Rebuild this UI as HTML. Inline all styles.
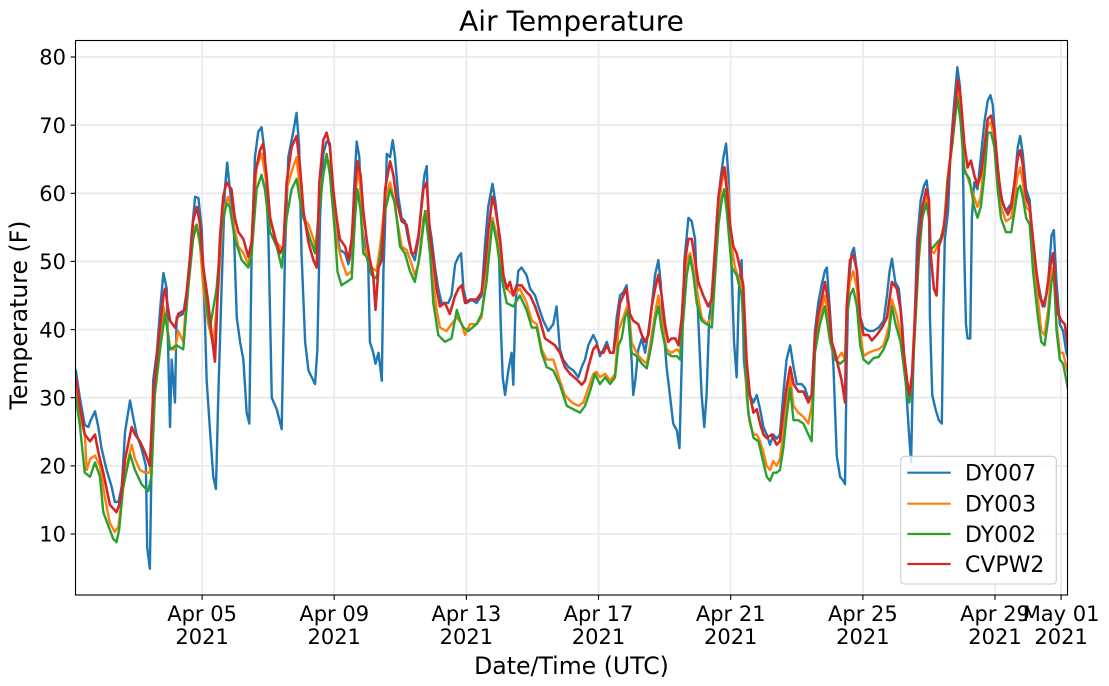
<!DOCTYPE html>
<html><head><meta charset="utf-8"><style>
html,body{margin:0;padding:0;background:#fff;}
svg{display:block;font-family:"DejaVu Sans","Liberation Sans",sans-serif;}
</style></head><body>
<svg width="1109" height="686" viewBox="0 0 1109 686" xmlns="http://www.w3.org/2000/svg">
<defs><clipPath id="pa"><rect x="75.5" y="40.5" width="992" height="554.5"/></clipPath></defs>
<rect width="1109" height="686" fill="#fff"/>
<!-- grid -->
<g stroke="#ebebeb" stroke-width="1.8">
<line x1="75.5" x2="1067.5" y1="57" y2="57"/><line x1="75.5" x2="1067.5" y1="125.2" y2="125.2"/>
<line x1="75.5" x2="1067.5" y1="193.3" y2="193.3"/><line x1="75.5" x2="1067.5" y1="261.4" y2="261.4"/>
<line x1="75.5" x2="1067.5" y1="329.6" y2="329.6"/><line x1="75.5" x2="1067.5" y1="397.7" y2="397.7"/>
<line x1="75.5" x2="1067.5" y1="465.9" y2="465.9"/><line x1="75.5" x2="1067.5" y1="534" y2="534"/>
<line y1="40.5" y2="595" x1="202.1" x2="202.1"/><line y1="40.5" y2="595" x1="334.2" x2="334.2"/>
<line y1="40.5" y2="595" x1="466.4" x2="466.4"/><line y1="40.5" y2="595" x1="598.5" x2="598.5"/>
<line y1="40.5" y2="595" x1="730.7" x2="730.7"/><line y1="40.5" y2="595" x1="862.9" x2="862.9"/>
<line y1="40.5" y2="595" x1="995" x2="995"/><line y1="40.5" y2="595" x1="1061.1" x2="1061.1"/>
</g>
<g clip-path="url(#pa)">
<g transform="translate(69.9,602.14) scale(33.04,-6.814)" fill="none" stroke-linejoin="round" stroke-linecap="round">
<polyline vector-effect="non-scaling-stroke" stroke="#1f77b4" stroke-width="2.4" points="0.18,34 0.30,30 0.45,26 0.56,25.7 0.61,26.5 0.76,28 0.86,25.7 0.96,22.5 1.11,19.4 1.26,17 1.36,14.7 1.47,14.7 1.57,17 1.67,25 1.82,29.6 1.92,27 2.02,24.6 2.17,22.5 2.30,20 2.34,8 2.42,4.9 2.47,20 2.52,32.5 2.63,36.6 2.73,42.9 2.83,48.3 2.93,46 3.03,25.7 3.08,35.6 3.18,29.3 3.23,41.8 3.43,42.3 3.58,47 3.68,53.8 3.79,59.5 3.89,59.3 3.99,54.8 4.09,40.8 4.14,32.5 4.24,25.2 4.34,18.4 4.42,16.6 4.49,30 4.59,46 4.69,60.6 4.76,64.5 4.84,60.6 4.95,56.4 5.05,41.8 5.15,38.2 5.25,35.6 5.35,27.8 5.43,26.2 5.50,51.2 5.60,65.3 5.70,69 5.80,69.7 5.90,65.8 6.01,53.3 6.11,30 6.26,28.3 6.41,25.4 6.51,51.2 6.61,65.3 6.76,69 6.86,71.8 6.94,66.8 7.01,51.2 7.12,38.2 7.22,34 7.32,33 7.42,32 7.49,37.1 7.57,56.4 7.67,65.8 7.77,67.6 7.87,67.3 7.97,59 8.07,54.3 8.17,51.7 8.33,51.2 8.43,49.6 8.53,51.7 8.60,60.6 8.68,67.6 8.76,65.3 8.83,55.4 8.93,52.2 9.03,49.6 9.08,38.2 9.18,36.6 9.25,35 9.34,36.6 9.44,32.5 9.49,48.6 9.54,55.4 9.59,65.8 9.69,65.3 9.77,67.8 9.84,65.3 9.94,59.5 10.04,56.4 10.14,55.9 10.24,53.3 10.34,51.2 10.44,50.2 10.55,53.3 10.65,59 10.73,62.7 10.80,64 10.85,56.4 10.95,53.3 11.05,49.1 11.15,46 11.25,43.9 11.45,43.9 11.55,45 11.66,49.6 11.76,50.7 11.84,51.2 11.91,46 12.01,43.9 12.16,44.4 12.31,43.9 12.46,45 12.56,52.2 12.66,58 12.79,61.4 12.87,59 12.97,54.8 13.04,40.8 13.10,33 13.17,30.4 13.27,34 13.37,36.6 13.42,31.9 13.49,43.9 13.57,48.6 13.67,49.1 13.82,48 13.93,46 14.08,45 14.18,43.4 14.33,41.3 14.48,39.8 14.63,40.8 14.73,43.4 14.83,37.1 14.93,35.6 15.09,34.5 15.24,34 15.39,33 15.49,34.5 15.59,35.6 15.69,37.7 15.84,39.2 15.94,38.2 16.04,36.1 16.15,37.1 16.25,38.2 16.35,36.6 16.45,36.6 16.55,41.8 16.65,45 16.75,45.5 16.85,46.5 16.90,42 17.00,35.6 17.05,30.4 17.12,32.8 17.20,37 17.31,38.7 17.41,36.6 17.51,39.8 17.61,43.4 17.71,48 17.81,50.2 17.88,47 17.96,40.8 18.06,34.5 18.16,30.4 18.26,26.2 18.37,25.2 18.45,22.6 18.52,35.6 18.60,50.2 18.72,56.4 18.82,55.9 18.92,53.3 19.02,41.3 19.12,30.4 19.20,25.7 19.27,30.4 19.35,41.8 19.48,46 19.58,56.4 19.68,61.6 19.78,65.3 19.86,67.3 19.93,62.7 20.03,48.6 20.10,38.2 20.18,33 20.25,46 20.33,50.2 20.40,35.6 20.48,31.4 20.58,30.4 20.69,29.3 20.79,30.4 20.89,28.3 20.99,25.7 21.09,24.6 21.19,23.1 21.29,24.6 21.39,24 21.49,24.6 21.59,30.4 21.69,35.6 21.80,37.7 21.90,34.5 22.00,32 22.15,32 22.25,31.4 22.35,29.8 22.45,30.4 22.55,39.8 22.65,43.9 22.75,46.5 22.85,48.6 22.91,49.1 23.01,42.3 23.11,34.5 23.21,21.5 23.31,18.4 23.41,17.8 23.46,17.3 23.51,35 23.56,46 23.66,51.2 23.73,52 23.82,48.6 23.92,41.8 24.02,40.3 24.17,39.8 24.32,39.8 24.48,40.3 24.63,41.3 24.73,45 24.81,48.6 24.88,50.4 24.98,47 25.09,46 25.19,40.8 25.29,33 25.39,25.2 25.46,20.5 25.50,30 25.56,40 25.64,52.8 25.75,59 25.85,61.1 25.93,61.9 26.00,59 26.03,41.8 26.10,30.4 26.20,28.3 26.30,26.7 26.39,26.2 26.43,40.8 26.48,53.3 26.58,57.4 26.66,66.8 26.76,73 26.86,78.5 26.94,75.6 27.02,66.8 27.07,51.2 27.12,40.8 27.17,38.7 27.25,38.7 27.30,56.4 27.37,61.6 27.47,60.6 27.57,65.3 27.68,70.5 27.78,73.6 27.86,74.4 27.93,73 28.03,66.8 28.13,61.6 28.23,58.5 28.33,57.4 28.49,58.5 28.59,61.6 28.69,66.8 28.76,68.4 28.84,65.8 28.94,60.6 29.05,59 29.15,51.2 29.30,47 29.40,44.4 29.50,43.4 29.61,47 29.71,53.8 29.78,54.6 29.86,47 29.96,40.8 30.06,39.8 30.16,36.6 30.24,35.6"/>
<polyline vector-effect="non-scaling-stroke" stroke="#ff7f0e" stroke-width="2.4" points="0.18,31 0.30,27.2 0.45,24.6 0.51,19.4 0.61,21 0.76,21.5 0.91,20 1.06,15.3 1.21,11.6 1.36,10.3 1.47,11.1 1.57,15.3 1.72,20 1.87,23.1 1.97,21 2.12,19.4 2.27,19 2.42,19 2.52,30.4 2.68,37.1 2.83,43.4 2.93,41.3 3.03,37.1 3.18,37.1 3.28,39.8 3.43,38.2 3.58,48 3.73,54.8 3.84,55.4 3.94,52.2 4.04,46 4.19,40.8 4.34,37.7 4.49,46 4.64,57.4 4.79,59.5 4.95,55.4 5.10,52.2 5.25,51.2 5.40,49.6 5.50,52.8 5.65,63.8 5.80,65.8 5.95,61.6 6.06,56.4 6.26,52.8 6.46,51.7 6.56,60.6 6.71,63.2 6.86,65.3 6.96,60.6 7.07,56.4 7.22,55.4 7.37,53.3 7.47,51.2 7.57,60 7.67,62.7 7.77,65.3 7.87,64.2 7.97,59 8.07,53.3 8.22,50.2 8.38,48 8.53,48.6 8.63,57.4 8.70,63.8 8.80,60.6 8.88,52.2 8.98,51.2 9.13,49.1 9.28,48.6 9.39,52.2 9.54,59 9.69,61.6 9.79,59.5 9.89,56.4 10.04,52.2 10.19,51.7 10.34,49.6 10.44,48 10.55,49.6 10.70,56.4 10.80,57.4 10.90,53.3 11.00,47 11.10,42.9 11.20,40.3 11.40,39.8 11.55,40.8 11.71,41.8 11.86,40.8 11.96,39.2 12.11,40.8 12.31,40.8 12.46,41.8 12.61,48.6 12.79,56.4 12.92,53.8 13.07,49.1 13.22,46 13.42,45 13.62,46 13.82,44 13.98,41.3 14.13,40.8 14.28,37.1 14.43,35.6 14.63,35.6 14.83,32.5 14.98,30.4 15.19,29.3 15.39,28.8 15.54,29.3 15.69,31.4 15.84,33.5 15.94,33.8 16.04,33 16.20,33.5 16.35,32.5 16.50,33.5 16.60,39.8 16.75,41.8 16.90,43.9 17.00,38.2 17.15,36.6 17.31,35.6 17.46,35 17.56,37.7 17.71,42.3 17.81,45 17.91,41.3 18.06,37.1 18.21,36.6 18.37,37.1 18.47,36.6 18.57,42.9 18.67,50.2 18.77,51.2 18.87,49.1 18.97,46 19.12,41.8 19.27,40.8 19.43,41.8 19.53,50.2 19.63,57.4 19.73,61.6 19.83,63.8 19.93,60 20.03,52.2 20.13,49.1 20.28,47 20.38,45.5 20.48,30.4 20.58,26.2 20.69,24.6 20.79,24.6 20.89,23.6 20.99,22 21.09,20 21.19,19.4 21.29,20.7 21.39,20 21.49,21 21.59,24.6 21.69,29.3 21.80,33 21.90,28.8 22.05,27.8 22.20,27.2 22.35,26.2 22.45,28.8 22.55,37.7 22.70,41.8 22.85,45 22.96,41.8 23.06,37.1 23.21,35.6 23.36,36.6 23.46,35.6 23.51,42.9 23.61,47 23.71,48.6 23.82,46 23.92,39.8 24.02,36.1 24.17,36.6 24.32,36.9 24.48,37.1 24.63,37.7 24.78,40.3 24.88,44.4 25.03,42 25.14,39.2 25.24,35.6 25.34,31.4 25.41,29.8 25.49,32.5 25.59,42 25.69,51.2 25.80,56.9 25.92,59.5 26.00,57.4 26.05,51.7 26.15,51.2 26.25,52.2 26.35,53.3 26.46,55.4 26.56,62.2 26.71,67.8 26.86,75.6 26.96,72 27.07,63.8 27.22,61.6 27.37,59.5 27.47,58 27.57,59.5 27.68,65.3 27.78,69.9 27.88,70.4 27.98,67.8 28.08,61.6 28.18,58 28.33,55.9 28.49,56.4 28.59,59.5 28.69,62.7 28.76,63.8 28.84,61.6 28.94,58 29.05,57.4 29.15,51.2 29.30,44.4 29.40,39.8 29.50,39.2 29.61,43 29.71,49.1 29.78,48.6 29.86,41 29.96,36.6 30.06,36.6 30.16,34.5 30.24,33"/>
<polyline vector-effect="non-scaling-stroke" stroke="#2ca02c" stroke-width="2.4" points="0.18,30 0.30,26 0.45,19 0.61,18.4 0.76,20.5 0.91,18.4 1.01,13.2 1.21,10.6 1.31,9.3 1.41,8.8 1.49,10.6 1.61,16.8 1.82,21.7 1.97,19.4 2.17,17.3 2.37,16.3 2.47,18.4 2.57,30.4 2.73,37.1 2.88,42.3 3.03,37.1 3.23,37.7 3.43,37.1 3.58,46 3.73,53.3 3.84,55.4 3.99,51.2 4.14,43.4 4.24,40.3 4.44,46 4.59,54.8 4.74,58.5 4.84,58 4.99,53.3 5.20,50.2 5.40,49.1 5.50,51 5.65,60.6 5.80,62.7 5.90,60.6 6.06,54.3 6.26,52.2 6.41,49.1 6.56,56.4 6.71,60.6 6.86,62.1 6.96,59 7.07,56.4 7.27,53.3 7.42,51.2 7.52,56.4 7.67,62.7 7.77,65.8 7.87,62.7 8.02,54.3 8.10,48.5 8.22,46.5 8.38,47 8.53,47.5 8.63,56.4 8.70,60.6 8.80,57.4 8.88,51.2 8.98,50.7 9.13,48 9.28,47.5 9.39,50.7 9.54,57.4 9.69,60.6 9.84,58.5 9.99,52.2 10.14,51.2 10.29,48.6 10.44,47 10.60,51.2 10.75,57.4 10.90,51.2 11.00,43.9 11.15,39.2 11.35,38.2 11.55,38.7 11.71,42.9 11.81,41.3 11.91,40.3 12.06,39.8 12.31,40.8 12.46,42.3 12.61,47 12.79,55.9 12.92,52.8 13.07,47.5 13.22,43.9 13.42,43.4 13.62,45 13.82,42.9 13.98,40.3 14.13,40.3 14.28,36.6 14.43,34.5 14.63,34 14.83,31.9 15.04,28.8 15.24,28.3 15.44,27.8 15.59,28.8 15.74,30.9 15.89,33.5 16.04,32 16.20,33 16.35,32 16.50,33 16.60,37.7 16.70,38.7 16.80,41.8 16.90,42.9 17.00,36.6 17.15,36.1 17.31,35 17.46,34.3 17.61,38 17.71,41.3 17.81,43.4 17.91,40 18.06,36.6 18.21,36.1 18.37,36.1 18.47,35.6 18.57,41.8 18.67,48 18.77,50.7 18.87,48 18.97,43.9 19.12,41.3 19.27,40.8 19.43,40.3 19.53,48 19.63,55.4 19.73,59 19.80,60.6 19.88,57.4 20.03,49.1 20.18,48 20.33,45 20.43,37.1 20.53,27.8 20.69,24.1 20.84,23.6 20.99,20.5 21.09,18.4 21.19,17.8 21.29,19 21.39,19 21.49,19.4 21.59,22.5 21.69,27.2 21.80,31.4 21.90,26.7 22.05,26.7 22.20,26.2 22.35,24.6 22.45,23.6 22.55,36.6 22.70,40.8 22.85,43.4 23.01,38.2 23.16,35.6 23.31,35 23.46,35.6 23.51,41.8 23.61,45 23.71,46 23.82,43.4 23.92,37.7 24.02,35.6 24.17,35 24.32,35.8 24.48,36 24.63,37.1 24.78,39 24.88,43.4 24.98,41 25.14,38.2 25.24,34.5 25.34,30.4 25.41,29.3 25.49,32 25.59,41 25.69,50.2 25.80,56.4 25.92,58.5 26.00,56.4 26.05,51.7 26.15,52.2 26.25,52.8 26.35,53.3 26.46,54.8 26.56,61.6 26.71,67.3 26.86,74.1 26.96,70.4 27.07,63.2 27.22,62.2 27.37,58 27.47,56.4 27.57,58 27.68,62.7 27.78,68.9 27.88,68.9 27.98,66.8 28.08,60.6 28.18,56.4 28.33,54.3 28.49,54.3 28.59,57.4 28.69,60.6 28.76,61.1 28.84,59.5 28.94,56.4 29.05,55.4 29.15,48.6 29.30,41.8 29.40,38.2 29.50,37.7 29.61,41.5 29.71,47 29.78,48.6 29.86,40 29.96,35.6 30.06,35 30.16,32.5 30.24,30.4"/>
<polyline vector-effect="non-scaling-stroke" stroke="#d62728" stroke-width="2.6" points="0.18,33 0.30,28.8 0.45,24.6 0.61,23.6 0.76,24.6 0.86,22 1.01,19 1.21,14.3 1.41,13.2 1.52,14.7 1.67,21 1.87,25.7 1.97,24.6 2.12,23.6 2.27,22 2.42,20 2.52,30.4 2.68,38.2 2.83,45 2.88,46 3.03,41.3 3.18,40.3 3.28,42.3 3.48,42.9 3.63,50.2 3.73,55.9 3.84,58 3.94,55.4 4.04,49.1 4.19,43.9 4.29,39.2 4.39,35.3 4.44,41.3 4.54,53.3 4.64,59.5 4.74,61.6 4.89,60.6 4.99,56.4 5.10,54.3 5.25,53.3 5.40,50.7 5.50,52.8 5.60,62.7 5.75,66.3 5.85,67.3 5.95,62.7 6.06,56.4 6.21,53.3 6.36,51.2 6.46,52.2 6.56,61.6 6.71,66.8 6.86,68.4 6.96,64.2 7.07,57.4 7.22,52.8 7.37,50.2 7.47,49.1 7.55,61.6 7.67,67.8 7.77,68.9 7.87,66.8 7.97,60.6 8.07,56.4 8.17,53.3 8.33,52.2 8.43,50.2 8.53,53.3 8.60,59 8.70,64.7 8.80,62.7 8.88,57.4 8.98,53.3 9.08,50.2 9.18,48 9.25,42.9 9.34,49.1 9.44,50.2 9.54,60.6 9.69,64.7 9.79,62.7 9.89,59 10.04,55.9 10.19,55.4 10.34,51.2 10.44,51.2 10.55,53.8 10.70,60.6 10.80,61.6 10.90,53.8 11.00,50.2 11.10,46 11.20,43.4 11.35,43.9 11.50,42.3 11.66,45 11.76,46 11.86,46.5 11.96,43.9 12.11,44.4 12.31,44.4 12.46,45.5 12.56,49.1 12.66,54.3 12.79,59.5 12.87,58 13.02,53.3 13.12,48 13.22,46 13.32,47 13.42,45 13.52,46.5 13.67,46.5 13.82,45.5 13.93,45 14.08,43.4 14.23,41.3 14.38,38.7 14.53,38.2 14.68,37.7 14.83,36.6 14.98,34.5 15.14,33.5 15.34,32.7 15.49,31.9 15.59,32.5 15.69,34.5 15.84,37.1 15.94,37.7 16.04,36.6 16.15,36.6 16.25,37.7 16.35,36.6 16.45,36.6 16.55,39.8 16.65,43.9 16.75,45 16.85,46 16.95,42.3 17.05,41.3 17.20,40.8 17.31,39.2 17.41,38.2 17.51,39.2 17.61,43.4 17.71,46 17.81,48 17.91,45 18.01,40.8 18.11,38.2 18.21,38.7 18.32,38.7 18.42,37.7 18.52,41.8 18.62,50.2 18.72,53.3 18.82,53.3 18.92,50.2 19.02,47 19.17,45 19.32,43.4 19.42,44.4 19.53,52.2 19.63,59.5 19.73,62.7 19.80,63.8 19.88,60.6 19.98,55.4 20.08,52.2 20.18,51.2 20.28,49.1 20.38,46.5 20.48,35.6 20.58,30.4 20.69,27.8 20.79,28.3 20.89,26.2 20.99,24.6 21.09,24.1 21.24,24.6 21.39,23.1 21.49,23.6 21.59,27.8 21.69,31.4 21.80,34.5 21.90,32 22.05,30.9 22.20,30.9 22.35,29.3 22.45,30.4 22.55,38.7 22.65,42.3 22.75,44.4 22.85,47 22.96,43.9 23.06,38.2 23.16,36.6 23.26,34.5 23.36,32.5 23.46,29.3 23.51,43.4 23.61,50.2 23.71,51 23.82,48.6 23.92,41.8 24.02,39.2 24.17,39.2 24.27,38.4 24.42,39.2 24.58,40.3 24.73,41.8 24.88,47 25.03,46 25.14,42.9 25.24,36.6 25.34,32.5 25.41,30.4 25.49,33.5 25.59,43.4 25.69,52.8 25.80,58 25.92,60.6 26.00,59 26.05,51.2 26.15,46 26.23,45 26.30,52.2 26.41,53.8 26.51,57.4 26.61,63.2 26.76,71.4 26.88,76.7 26.96,74.1 27.07,67.3 27.17,63.8 27.27,64.8 27.37,62.7 27.47,61.1 27.57,62.7 27.68,66.8 27.78,70.9 27.88,71.4 27.98,69.4 28.08,63.8 28.18,59.5 28.28,58 28.39,56.9 28.49,58 28.59,61.6 28.69,65.3 28.76,66.3 28.84,64.2 28.94,59.5 29.05,58 29.15,53.3 29.25,48.6 29.35,45 29.45,43.4 29.55,45 29.66,49.1 29.76,51.2 29.83,46 29.91,42.3 30.01,41.3 30.11,40.8 30.24,36.6"/>
</g>
</g>
<!-- spines -->
<rect x="75.5" y="40.5" width="992" height="554.5" fill="none" stroke="#000" stroke-width="1.1"/>
<!-- ticks -->
<g stroke="#000" stroke-width="1.1">
<line x1="70.6" x2="75.5" y1="57" y2="57"/><line x1="70.6" x2="75.5" y1="125.2" y2="125.2"/>
<line x1="70.6" x2="75.5" y1="193.3" y2="193.3"/><line x1="70.6" x2="75.5" y1="261.4" y2="261.4"/>
<line x1="70.6" x2="75.5" y1="329.6" y2="329.6"/><line x1="70.6" x2="75.5" y1="397.7" y2="397.7"/>
<line x1="70.6" x2="75.5" y1="465.9" y2="465.9"/><line x1="70.6" x2="75.5" y1="534" y2="534"/>
<line y1="595" y2="599.9" x1="202.1" x2="202.1"/><line y1="595" y2="599.9" x1="334.2" x2="334.2"/>
<line y1="595" y2="599.9" x1="466.4" x2="466.4"/><line y1="595" y2="599.9" x1="598.5" x2="598.5"/>
<line y1="595" y2="599.9" x1="730.7" x2="730.7"/><line y1="595" y2="599.9" x1="862.9" x2="862.9"/>
<line y1="595" y2="599.9" x1="995" x2="995"/><line y1="595" y2="599.9" x1="1061.1" x2="1061.1"/>
</g>
<g font-size="21" fill="#000" text-anchor="end">
<text x="66" y="64.7">80</text><text x="66" y="132.9">70</text><text x="66" y="201">60</text>
<text x="66" y="269.1">50</text><text x="66" y="337.3">40</text><text x="66" y="405.4">30</text>
<text x="66" y="473.6">20</text><text x="66" y="541.7">10</text>
</g>
<g font-size="21" fill="#000" text-anchor="middle">
<text x="202.1" y="621">Apr 05</text><text x="202.1" y="644">2021</text>
<text x="334.2" y="621">Apr 09</text><text x="334.2" y="644">2021</text>
<text x="466.4" y="621">Apr 13</text><text x="466.4" y="644">2021</text>
<text x="598.5" y="621">Apr 17</text><text x="598.5" y="644">2021</text>
<text x="730.7" y="621">Apr 21</text><text x="730.7" y="644">2021</text>
<text x="862.9" y="621">Apr 25</text><text x="862.9" y="644">2021</text>
<text x="995" y="621">Apr 29</text><text x="995" y="644">2021</text>
<text x="1061.1" y="621">May 01</text><text x="1061.1" y="644">2021</text>
</g>
<text x="571.5" y="674" font-size="23.6" text-anchor="middle">Date/Time (UTC)</text>
<text transform="translate(27,315) rotate(-90)" font-size="23.6" text-anchor="middle">Temperature (F)</text>
<text x="571.5" y="30.5" font-size="28" text-anchor="middle">Air Temperature</text>
<!-- legend -->
<rect x="900.7" y="456.3" width="155.6" height="127.7" rx="4" ry="4" fill="#fff" fill-opacity="0.8" stroke="#cccccc" stroke-width="1.1"/>
<g stroke-width="2.2">
<line x1="907.3" x2="950.7" y1="472.7" y2="472.7" stroke="#1f77b4"/>
<line x1="907.3" x2="950.7" y1="503.7" y2="503.7" stroke="#ff7f0e"/>
<line x1="907.3" x2="950.7" y1="534" y2="534" stroke="#2ca02c"/>
<line x1="907.3" x2="950.7" y1="564" y2="564" stroke="#d62728"/>
</g>
<g font-size="22" fill="#000">
<text x="965" y="480.7">DY007</text><text x="965" y="511.7">DY003</text>
<text x="965" y="542">DY002</text><text x="965" y="572">CVPW2</text>
</g>
</svg>
</body></html>
